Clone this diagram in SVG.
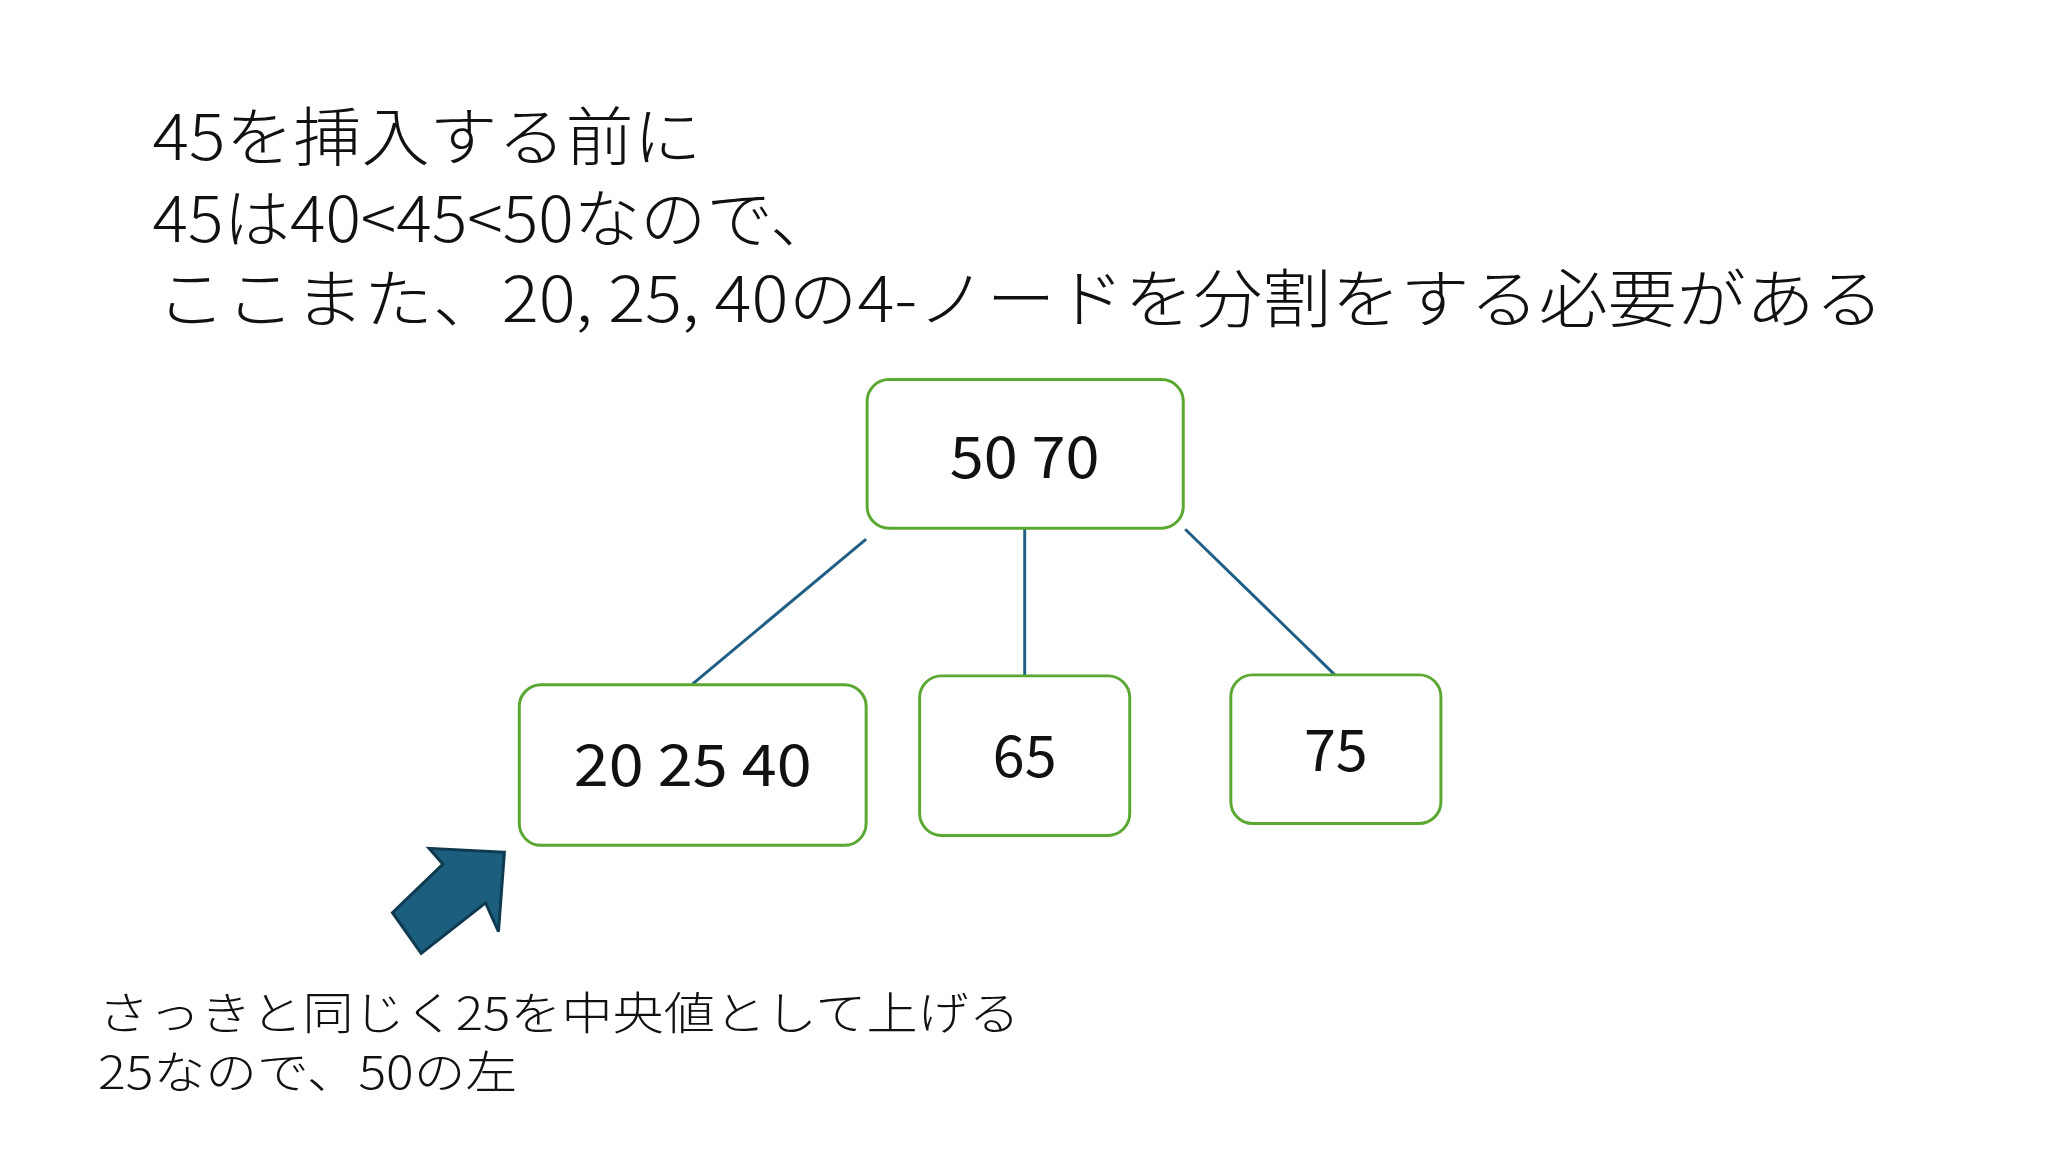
<svg xmlns="http://www.w3.org/2000/svg" width="2048" height="1152" viewBox="0 0 2048 1152">
<style>
text{font-family:"Noto Sans CJK JP","Noto Sans",sans-serif;fill:#111}
.t{font-size:64px;font-weight:300}
.n{font-size:58px;text-anchor:middle}
.b{font-size:46px;font-weight:300}
.box{fill:#fff;stroke:#5aa832;stroke-width:3}
.c{stroke:#1f5f86;stroke-width:3;fill:none}
</style>
<rect width="2048" height="1152" fill="#fff"/>
<g transform="scale(0.991)">
<g id="title">
<text class="t" x="154" y="161" textLength="554" lengthAdjust="spacingAndGlyphs">45を挿入する前に</text>
<text class="t" x="154" y="244" textLength="690" lengthAdjust="spacingAndGlyphs">45は40&lt;45&lt;50なので、</text>
<text class="t" x="158" y="325" textLength="1743" lengthAdjust="spacingAndGlyphs">ここまた、20, 25, 40の4-ノードを分割をする必要がある</text>
</g>
<g id="connectors">
<line class="c" x1="874" y1="544" x2="699" y2="690"/>
<line class="c" x1="1034" y1="533" x2="1034" y2="682"/>
<line class="c" x1="1196" y1="534" x2="1347" y2="681"/>
</g>
<g id="n5070"><rect class="box" x="875" y="383" width="319" height="150" rx="22"/><text class="n" x="1034" y="482" textLength="151" lengthAdjust="spacingAndGlyphs">50 70</text></g>
<g id="n202540"><rect class="box" x="524" y="691" width="350" height="162" rx="22"/><text class="n" x="699" y="793" textLength="240" lengthAdjust="spacingAndGlyphs">20 25 40</text></g>
<g id="n65"><rect class="box" x="928" y="682" width="212" height="161" rx="22"/><text class="n" x="1034" y="784">65</text></g>
<g id="n75"><rect class="box" x="1242" y="681" width="212" height="150" rx="22"/><text class="n" x="1348" y="778">75</text></g>
<g id="arrow"><polygon points="509,860 433,856 447,872 396,921 425,962 490,911 503,940" fill="#1b5e7e" stroke="#0f3a4f" stroke-width="3"/></g>
<g id="note">
<text class="b" x="99" y="1039" textLength="930" lengthAdjust="spacingAndGlyphs">さっきと同じく25を中央値として上げる</text>
<text class="b" x="99" y="1099" textLength="423" lengthAdjust="spacingAndGlyphs">25なので、50の左</text>
</g>
</g>
</svg>
